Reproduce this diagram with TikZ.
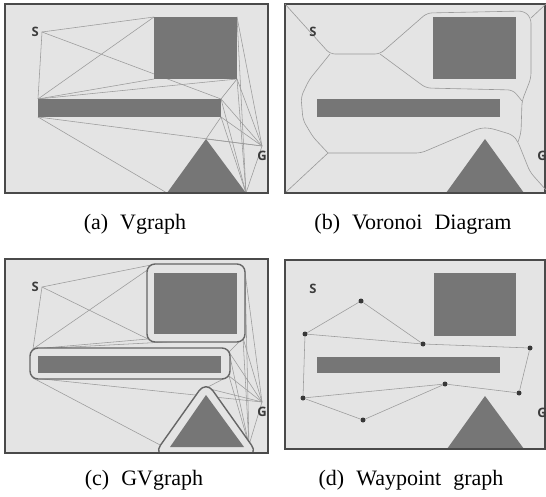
\documentclass[tikz,border=0pt]{standalone}
\usepackage{fontspec}
\setmainfont{Liberation Serif}
\newfontfamily\tagfont{Open Sans}
\usetikzlibrary{positioning}
\definecolor{panelbg}{HTML}{E4E4E4}
\definecolor{obst}{HTML}{767676}
\definecolor{frameln}{HTML}{4A4A4A}
\definecolor{edgeln}{HTML}{9A9A9A}
\definecolor{tagtxt}{HTML}{3C3C3C}
\tikzset{
  panel/.style    = {draw=frameln, line width=1.1pt, fill=panelbg},
  obstacle/.style = {fill=obst},
  edge/.style     = {draw=edgeln, line width=0.55pt},
  hull/.style     = {draw=black!60, fill=panelbg, line width=1.4pt},
  vor/.style      = {draw=edgeln, line width=0.6pt, rounded corners=5pt},
  wpt/.style      = {circle, fill=black!78, inner sep=0pt, minimum size=5pt},
  tag/.style      = {font=\tagfont\bfseries\fontsize{13}{14}\selectfont,
                     text=tagtxt, inner sep=0pt},
  caption/.style  = {font=\fontsize{22}{26}\selectfont, inner sep=0pt},
}

\begin{document}
\begin{tikzpicture}[x=1pt, y=-1pt]
  \useasboundingbox (0,0) rectangle (546,497);

  % (a) visibility graph
  \draw[panel] (5,4) rectangle (268,193);
  \coordinate (sa) at (42,32);   \coordinate (ga) at (262,146);
  \coordinate (ra1) at (154,17); \coordinate (ra2) at (237,17);
  \coordinate (ra3) at (237,79); \coordinate (ra4) at (154,79);
  \coordinate (ba1) at (38,99);  \coordinate (ba2) at (221,99);
  \coordinate (ba3) at (221,117); \coordinate (ba4) at (38,117);
  \coordinate (ta1) at (206,139); \coordinate (ta2) at (167,193);
  \coordinate (ta3) at (246,193);
  \draw[edge] (sa)--(ra1); \draw[edge] (sa)--(ba1); \draw[edge] (sa)--(ba2);
  \draw[edge] (ra1)--(ba1); \draw[edge] (ra4)--(ba1); \draw[edge] (ra3)--(ba1);
  \draw[edge] (ra3)--(ba2); \draw[edge] (ra2)--(ga); \draw[edge] (ra2)--(ta3);
  \draw[edge] (ra3)--(ga); \draw[edge] (ra3)--(ta3); \draw[edge] (ba2)--(ga);
  \draw[edge] (ba2)--(ta3); \draw[edge] (ba3)--(ga); \draw[edge] (ba3)--(ta3);
  \draw[edge] (ba3)--(ta1); \draw[edge] (ba4)--(ta2); \draw[edge] (ba4)--(ga);
  \draw[edge] (ta1)--(ga); \draw[edge] (ta3)--(ga);
  \fill[obstacle] (ra1) rectangle (ra3);
  \fill[obstacle] (ba1) rectangle (ba3);
  \fill[obstacle] (ta1)--(ta2)--(ta3)--cycle;
  \draw[frameln, line width=1.1pt] (5,193)--(268,193);
  \node[tag, left=3pt of sa] (sla) {S};
  \node[tag, below=5pt of ga] (gla) {G};
  \node[caption] (capa) at (135,224) {(a)\hspace{12pt}Vgraph};

  % (b) voronoi diagram
  \draw[panel] (285,4) rectangle (545,193);
  \draw[vor] (285,4)--(330,54)--(380,54)--(427,13)--(524,11)--(531,18)
             --(531,78)--(522,101)--(521,133)--(518,142);
  \draw[vor] (531,18)--(546,4);
  \draw[vor] (380,54)--(426,88)--(513,90)--(522,101);
  \draw[vor] (330,54)--(309,80)--(301,97)--(303,120)--(313,137)--(328,153);
  \draw[vor] (328,153)--(285,193);
  \draw[vor] (328,153)--(421,153)--(480,128)--(490,128)--(513,135)--(518,142)
             --(530,172)--(546,190);
  \fill[obstacle] (433,17) rectangle (516,79);
  \fill[obstacle] (317,99) rectangle (500,117);
  \fill[obstacle] (485,139)--(446,193)--(524,193)--cycle;
  \draw[frameln, line width=1.1pt] (285,193)--(546,193);
  \node[tag] (slb) at (313,32) {S};
  \node[tag] (glb) at (542,156) {G};
  \node[caption] (capb) at (413,224) {(b)\hspace{12pt}Voronoi\hspace{12pt}Diagram};

  % (c) generalized visibility graph
  \draw[panel] (5,259) rectangle (268,453);
  \coordinate (sc) at (42,287);   \coordinate (gc) at (262,402);
  \coordinate (rc1) at (156,264); \coordinate (rc2) at (245,272);
  \coordinate (rc3) at (243,338); \coordinate (rc4) at (148,339);
  \coordinate (bc1) at (33,349);  \coordinate (bc2) at (229,352);
  \coordinate (bc3) at (229,376); \coordinate (bc4) at (33,378);
  \coordinate (tc1) at (206,388); \coordinate (tc2) at (162,446);
  \coordinate (tc3) at (249,445);
  \draw[edge] (sc)--(rc1); \draw[edge] (sc)--(bc1); \draw[edge] (sc)--(rc4);
  \draw[edge] (rc1)--(bc1); \draw[edge] (rc4)--(bc1); \draw[edge] (rc3)--(bc1);
  \draw[edge] (rc3)--(bc2); \draw[edge] (rc2)--(gc); \draw[edge] (rc2)--(tc3);
  \draw[edge] (rc3)--(gc); \draw[edge] (rc3)--(tc3); \draw[edge] (bc2)--(gc);
  \draw[edge] (bc2)--(tc3); \draw[edge] (bc3)--(gc); \draw[edge] (bc3)--(tc3);
  \draw[edge] (bc3)--(tc1); \draw[edge] (bc4)--(tc2); \draw[edge] (bc4)--(gc);
  \draw[edge] (tc1)--(gc); \draw[edge] (tc3)--(gc);
  \draw[hull, rounded corners=8pt] (147,264) rectangle (245,342);
  \draw[hull, rounded corners=8pt] (30,348) rectangle (230,379);
  \begin{scope}
    \clip (5,259) rectangle (268,453);
    \draw[hull, rounded corners=12pt] (206,381)--(153.5,455)--(258.5,455)--cycle;
  \end{scope}
  \fill[obstacle] (154,273) rectangle (237,334);
  \fill[obstacle] (38,356) rectangle (221,373);
  \fill[obstacle] (206,395)--(170,447)--(244,447)--cycle;
  \draw[frameln, line width=1.1pt] (5,453)--(268,453);
  \node[tag, left=3pt of sc] (slc) {S};
  \node[tag, below=5pt of gc] (glc) {G};
  \node[caption] (capc) at (144,480) {(c)\hspace{12pt}GVgraph};

  % (d) waypoint graph
  \draw[panel] (285,260) rectangle (545,449);
  \fill[obstacle] (434,273) rectangle (516,336);
  \fill[obstacle] (317,357) rectangle (500,373);
  \fill[obstacle] (485,396)--(447,449)--(524,449)--cycle;
  \draw[frameln, line width=1.1pt] (285,449)--(546,449);
  \node[wpt] (w1) at (361,301) {};
  \node[wpt] (w2) at (305,334) {};
  \node[wpt] (w3) at (423,344) {};
  \node[wpt] (w4) at (530,348) {};
  \node[wpt] (w5) at (445,384) {};
  \node[wpt] (w6) at (519,393) {};
  \node[wpt] (w7) at (303,398) {};
  \node[wpt] (w8) at (363,420) {};
  \draw[edge] (w2)--(w1); \draw[edge] (w1)--(w3); \draw[edge] (w2)--(w3);
  \draw[edge] (w3)--(w4); \draw[edge] (w4)--(w6); \draw[edge] (w6)--(w5);
  \draw[edge] (w5)--(w7); \draw[edge] (w7)--(w2); \draw[edge] (w7)--(w8);
  \draw[edge] (w8)--(w5);
  \node[tag] (sld) at (313,289) {S};
  \node[tag] (gld) at (542,413) {G};
  \node[caption] (capd) at (411,480) {(d)\hspace{12pt}Waypoint\hspace{12pt}graph};
\end{tikzpicture}
\end{document}
